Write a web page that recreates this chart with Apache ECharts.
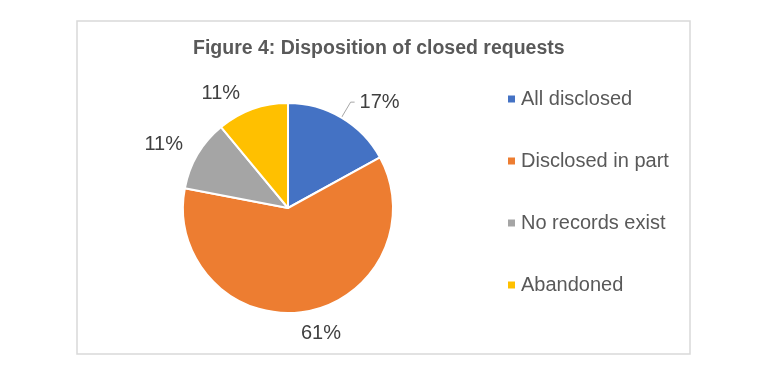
<!DOCTYPE html>
<html>
<head>
<meta charset="utf-8">
<script src="https://cdn.jsdelivr.net/npm/echarts@6/dist/echarts.min.js"></script>
<style>html,body{margin:0;padding:0;background:#fff}#c{width:776px;height:370px}</style>
</head>
<body>
<div id="c"></div>
<script>
const titleText = "Figure 4: Disposition of closed requests";
const categories = ["All disclosed", "Disclosed in part", "No records exist", "Abandoned"];
const values = [17, 61, 11, 11];
const colors = ["#4472C4", "#ED7D31", "#A5A5A5", "#FFC000"];
const showLeader = [true, false, false, false];
// label nudges (style only)
const labelDx = [0, -18, 7, 4];
const labelDy = [0, 12, -5, -6];

const FONT = "'Liberation Sans', Arial, sans-serif";
const chart = echarts.init(document.getElementById('c'), null, {renderer: 'canvas'});
chart.setOption({
  animation: false,
  backgroundColor: '#ffffff',
  graphic: [{
    type: 'rect',
    shape: {x: 77, y: 21, width: 613, height: 333},
    style: {fill: 'none', stroke: '#d9d9d9', lineWidth: 1.5},
    silent: true
  }],
  title: {
    text: titleText,
    left: 193,
    top: 39,
    padding: 0,
    textStyle: {fontFamily: FONT, fontSize: 19.5, fontWeight: 'bold', color: '#595959'}
  },
  legend: {
    orient: 'vertical',
    left: 508,
    top: 89,
    padding: 0,
    itemWidth: 7,
    itemHeight: 7,
    itemGap: 42,
    icon: 'rect',
    itemStyle: {borderWidth: 0},
    data: categories,
    textStyle: {fontFamily: FONT, fontSize: 20, color: '#595959', lineHeight: 20, padding: [0, 0, 0, 1]},
    formatter: n => n
  },
  series: [{
    type: 'pie',
    center: [288, 208],
    radius: 105,
    startAngle: 90,
    clockwise: true,
    avoidLabelOverlap: false,
    itemStyle: {borderColor: '#ffffff', borderWidth: 2},
    label: {
      show: true,
      position: 'outside',
      formatter: p => p.value + '%',
      fontFamily: FONT,
      fontSize: 20,
      color: '#404040'
    },
    labelLine: {show: true, length: 10, length2: 8, lineStyle: {color: '#a6a6a6', width: 1}},
    labelLayout: p => ({dx: labelDx[p.dataIndex], dy: labelDy[p.dataIndex]}),
    data: categories.map((name, i) => ({
      name,
      value: values[i],
      itemStyle: {color: colors[i]},
      labelLine: showLeader[i] ? {show: true, length: 18, length2: 4} : {show: false}
    }))
  }]
});
</script>
</body>
</html>
